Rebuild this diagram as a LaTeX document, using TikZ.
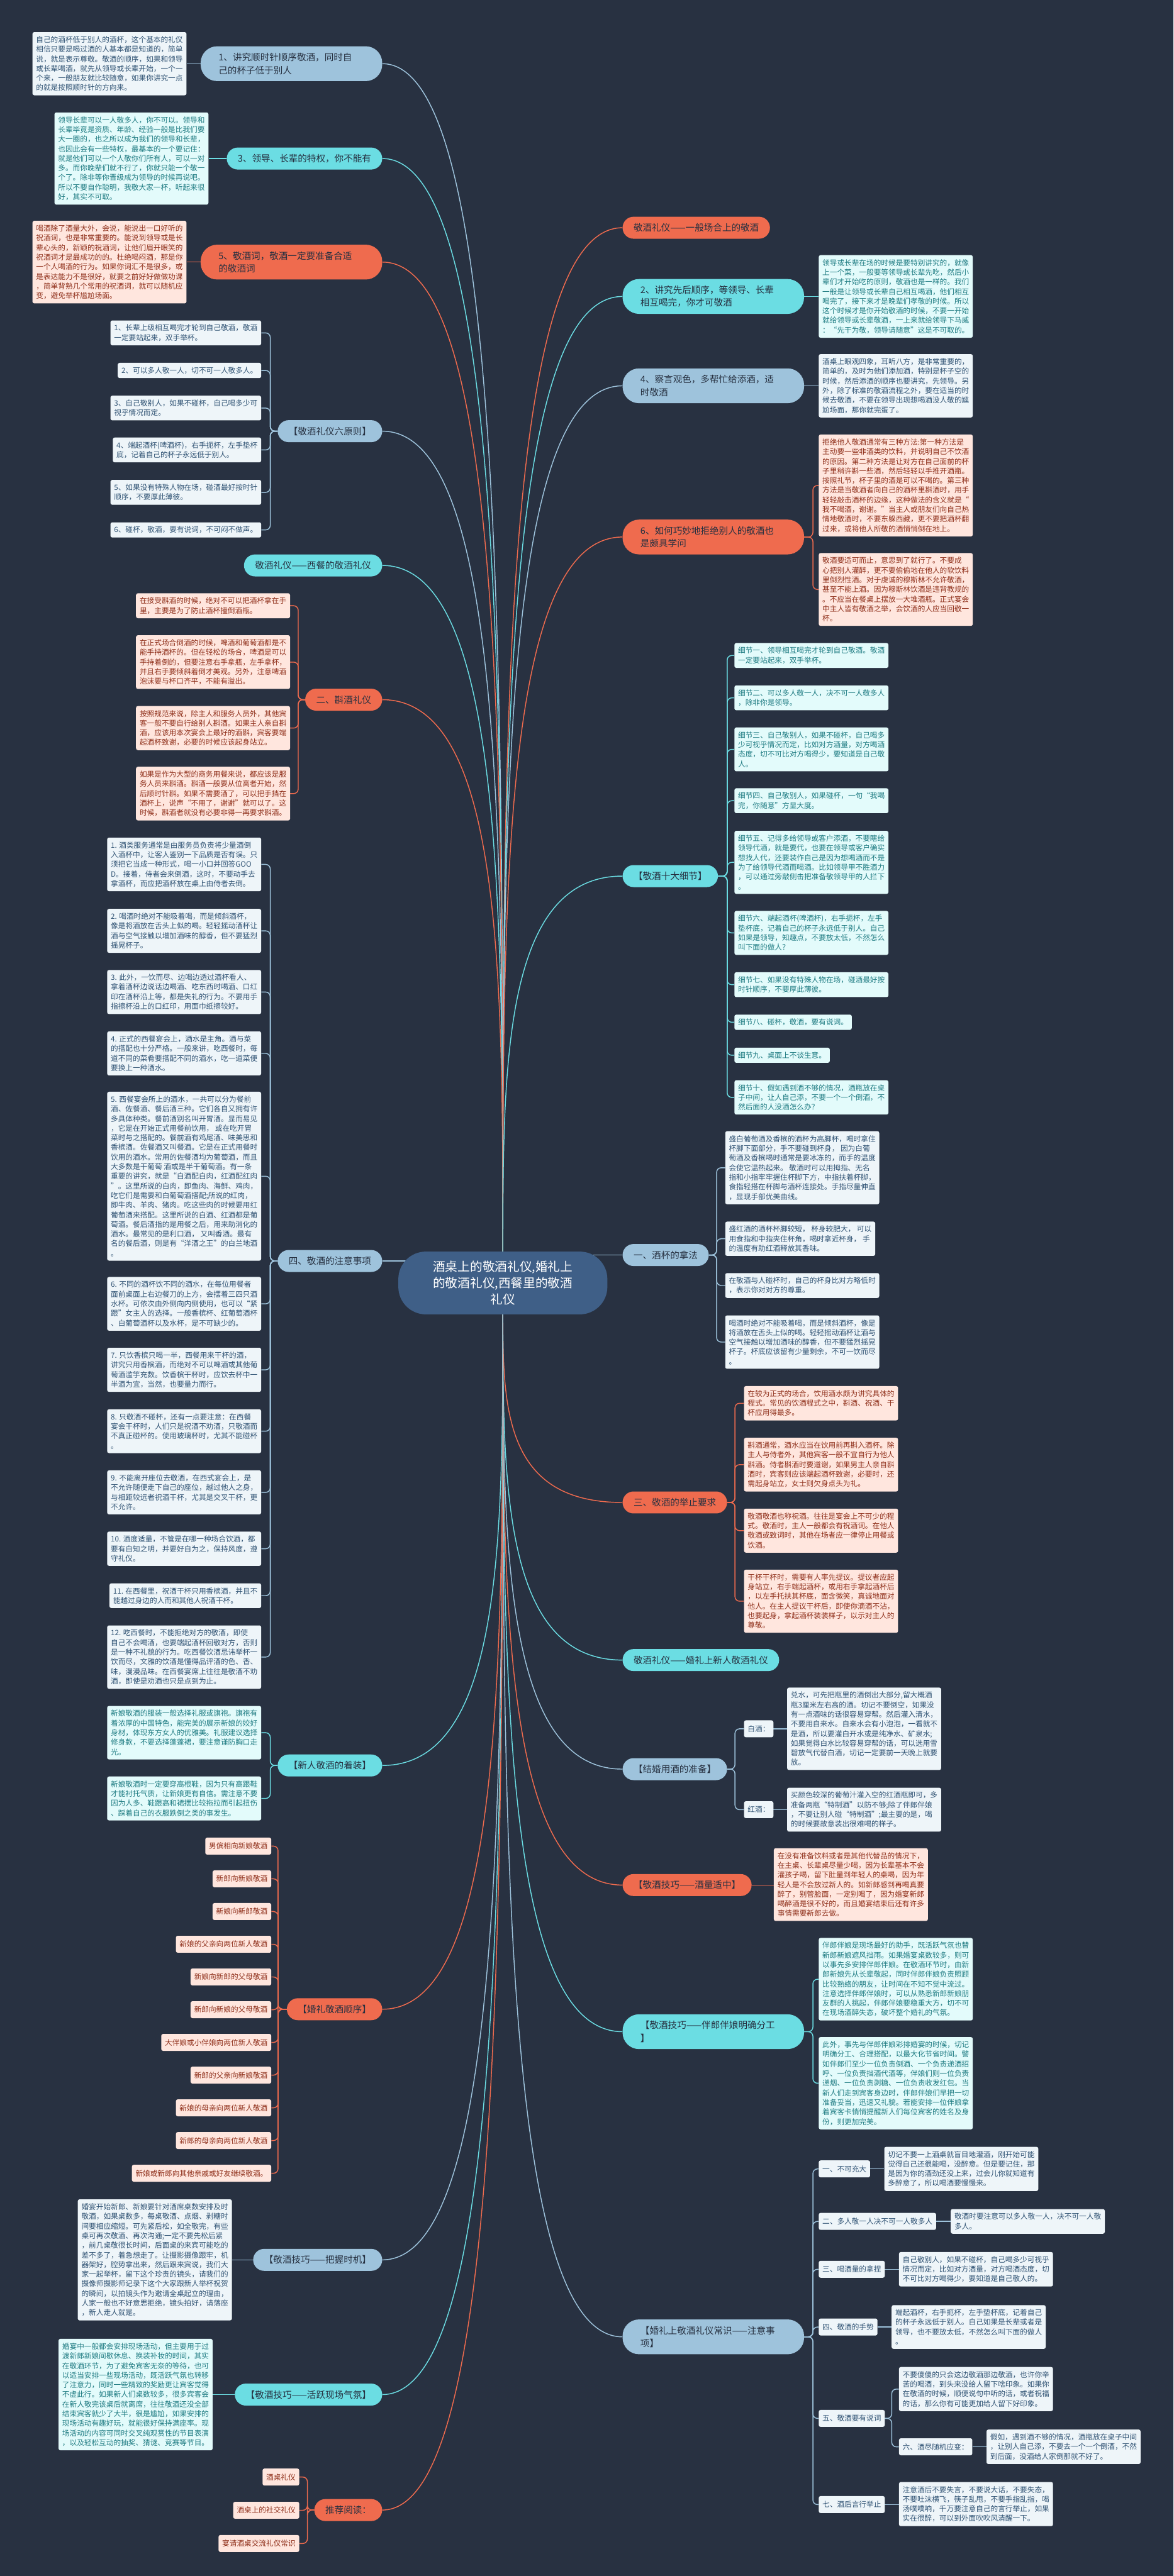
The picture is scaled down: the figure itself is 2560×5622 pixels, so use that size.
\documentclass[tikz,border=0pt]{standalone}
\usepackage{fontspec}
\setmainfont{Noto Sans CJK SC}
\usetikzlibrary{calc}
\definecolor{BG}{HTML}{283141}
\definecolor{Cen}{HTML}{3F5F87}
\definecolor{Ink}{HTML}{263040}
\definecolor{LB}{HTML}{9EC3DC}
\definecolor{CY}{HTML}{6BDDE3}
\definecolor{OR}{HTML}{EF6B4E}
\definecolor{LBp}{HTML}{EEF5F9}
\definecolor{CYp}{HTML}{E3FBFB}
\definecolor{ORp}{HTML}{FFE6DE}
\definecolor{LBt}{HTML}{2F5273}
\definecolor{CYt}{HTML}{1E7B82}
\definecolor{ORt}{HTML}{8F2F1A}
\pgfdeclarelayer{bg}
\pgfdeclarelayer{wires}
\pgfsetlayers{bg,wires,main}

\begin{document}
\begin{tikzpicture}[x=1pt,y=-1pt,
  lv/.style={font=\fontsize{20pt}{28pt}\selectfont,text=Ink,inner xsep=24pt,inner ysep=0pt,minimum height=48pt,rounded corners=24pt},
  lvtwo/.style={lv,text width=318pt,inner xsep=39pt,minimum height=76pt,rounded corners=36pt,align=left},
  det/.style={font=\fontsize{16pt}{21pt}\selectfont,inner xsep=8pt,inner ysep=9pt,rounded corners=4pt,align=left},
  tag/.style={det,inner ysep=0pt,minimum height=37pt},
  dLB/.style={fill=LBp,text=LBt},
  dCY/.style={fill=CYp,text=CYt},
  dOR/.style={fill=ORp,text=ORt},
  lnLB/.style={draw=LB,line width=2pt},
  lnCY/.style={draw=CY,line width=2pt},
  lnOR/.style={draw=OR,line width=2pt},
  arm/.style={rounded corners=10pt}]
  \useasboundingbox (0,0) rectangle (2560,5622);
  \begin{pgfonlayer}{bg}
    \fill[BG] (0,0) rectangle (2560,5622);
  \end{pgfonlayer}

  \node[font=\fontsize{27pt}{36pt}\selectfont,text=white,fill=Cen,align=center,minimum width=456pt,minimum height=137pt,rounded corners=60pt] (cen) at (1097,2800) {酒桌上的敬酒礼仪,婚礼上\\的敬酒礼仪,西餐里的敬酒\\礼仪};
  \coordinate (ctop) at (1097,2745);
  \coordinate (cbot) at (1097,2855);

  \node[lvtwo,fill=LB,anchor=east] (N1) at (834,139) {1、讲究顺时针顺序敬酒，同时自\\己的杯子低于别人};
  \node[lv,fill=CY,anchor=east] (N3) at (834,346) {3、领导、长辈的特权，你不能有};
  \node[lvtwo,fill=OR,anchor=east] (N5) at (834,572) {5、敬酒词，敬酒一定要准备合适\\的敬酒词};
  \node[lv,fill=LB,anchor=east] (N6) at (834,941) {【敬酒礼仪六原则】};
  \node[lv,fill=CY,anchor=east] (NW) at (834,1234) {敬酒礼仪——西餐的敬酒礼仪};
  \node[lv,fill=OR,anchor=east] (N2) at (834,1527) {二、斟酒礼仪};
  \node[lv,fill=LB,anchor=east] (N4) at (834,2752) {四、敬酒的注意事项};
  \node[lv,fill=CY,anchor=east] (NZ) at (834,3853) {【新人敬酒的着装】};
  \node[lv,fill=OR,anchor=east] (NS) at (834,4385) {【婚礼敬酒顺序】};
  \node[lv,fill=LB,anchor=east] (NT) at (834,4932) {【敬酒技巧——把握时机】};
  \node[lv,fill=CY,anchor=east] (NH) at (834,5226) {【敬酒技巧——活跃现场气氛】};
  \node[lv,fill=OR,anchor=east] (NR) at (834,5478) {推荐阅读：};

  \node[lv,fill=OR,anchor=west] (RA) at (1358,497) {敬酒礼仪——一般场合上的敬酒};
  \node[lvtwo,fill=CY,anchor=west] (R2) at (1358,647) {2、讲究先后顺序，等领导、长辈\\相互喝完，你才可敬酒};
  \node[lvtwo,fill=LB,anchor=west] (R4) at (1358,842) {4、察言观色，多帮忙给添酒，适\\时敬酒};
  \node[lvtwo,fill=OR,anchor=west] (R6) at (1358,1172) {6、如何巧妙地拒绝别人的敬酒也\\是颇具学问};
  \node[lv,fill=CY,anchor=west] (RX) at (1358,1912) {【敬酒十大细节】};
  \node[lv,fill=LB,anchor=west] (R1) at (1358,2739) {一、酒杯的拿法};
  \node[lv,fill=OR,anchor=west] (R3) at (1358,3279) {三、敬酒的举止要求};
  \node[lv,fill=CY,anchor=west] (RN) at (1358,3623) {敬酒礼仪——婚礼上新人敬酒礼仪};
  \node[lv,fill=LB,anchor=west] (RJ) at (1358,3861) {【结婚用酒的准备】};
  \node[lv,fill=OR,anchor=west] (RL) at (1358,4114) {【敬酒技巧——酒量适中】};
  \node[lvtwo,fill=CY,anchor=west] (RB) at (1358,4434) {【敬酒技巧——伴郎伴娘明确分工\\】};
  \node[lvtwo,fill=LB,anchor=west] (RC) at (1358,5100) {【婚礼上敬酒礼仪常识——注意事\\项】};

  \node[det,dLB,anchor=east] (D1) at (407,139) {自己的酒杯低于别人的酒杯，这个基本的礼仪\\相信只要是喝过酒的人基本都是知道的，简单\\说，就是表示尊敬。敬酒的顺序，如果和领导\\或长辈喝酒，就先从领导或长辈开始，一个一\\个来，一般朋友就比较随意，如果你讲究一点\\的就是按照顺时针的方向来。};
  \node[det,dCY,anchor=east] (D3) at (455,346) {领导长辈可以一人敬多人，你不可以。领导和\\长辈毕竟是资质、年龄、经验一般是比我们要\\大一圈的，也之所以成为我们的领导和长辈，\\也因此会有一些特权，最基本的一个要记住：\\就是他们可以一个人敬你们所有人，可以一对\\多。而你晚辈们就不行了，你就只能一个敬一\\个了。除非等你晋级成为领导的时候再说吧。\\所以不要自作聪明，我敬大家一杯，听起来很\\好，其实不可取。};
  \node[det,dOR,anchor=east] (D5) at (407,572) {喝酒除了酒量大外，会说，能说出一口好听的\\祝酒词，也是非常重要的。能说到领导或是长\\辈心头的，新颖的祝酒词，让他们眉开眼笑的\\祝酒词才是最成功的的。杜绝喝闷酒，那是你\\一个人喝酒的行为。如果你词汇不是很多，或\\是表达能力不是很好，就要之前好好做做功课\\，简单背熟几个常用的祝酒词，就可以随机应\\变，避免举杯尴尬场面。};

  \node[det,dLB,anchor=east] (C1) at (570,726.5) {1、长辈上级相互喝完才轮到自己敬酒，敬酒\\一定要站起来，双手举杯。};
  \node[det,dLB,anchor=east] (C2) at (570,808.5) {2、可以多人敬一人，切不可一人敬多人。};
  \node[det,dLB,anchor=east] (C3) at (570,890.5) {3、自己敬别人，如果不碰杯，自己喝多少可\\视乎情况而定。};
  \node[det,dLB,anchor=east] (C4) at (570,982) {4、端起酒杯(啤酒杯)，右手扼杯，左手垫杯\\底，记着自己的杯子永远低于别人。};
  \node[det,dLB,anchor=east] (C5) at (570,1074.5) {5、如果没有特殊人物在场，碰酒最好按时针\\顺序，不要厚此薄彼。};
  \node[det,dLB,anchor=east] (C6) at (570,1156.5) {6、碰杯，敬酒，要有说词，不可闷不做声。};

  \node[det,dOR,anchor=east] (E1) at (633,1322) {在接受斟酒的时候，绝对不可以把酒杯拿在手\\里，主要是为了防止酒杯撞倒酒瓶。};
  \node[det,dOR,anchor=east] (E2) at (633,1445) {在正式场合倒酒的时候，啤酒和葡萄酒都是不\\能手持酒杯的。但在轻松的场合，啤酒是可以\\手持着倒的，但要注意右手拿瓶，左手拿杯，\\并且右手要倾斜着倒才美观。另外，注意啤酒\\泡沫要与杯口齐平，不能有溢出。};
  \node[det,dOR,anchor=east] (E3) at (633,1589) {按照规范来说，除主人和服务人员外，其他宾\\客一般不要自行给别人斟酒。如果主人亲自斟\\酒，应该用本次宴会上最好的酒斟，宾客要端\\起酒杯致谢，必要的时候应该起身站立。};
  \node[det,dOR,anchor=east] (E4) at (633,1732) {如果是作为大型的商务用餐来说，都应该是服\\务人员来斟酒。斟酒一般要从位高者开始，然\\后顺时针斟。如果不需要酒了，可以把手挡在\\酒杯上，说声“不用了，谢谢”就可以了。这\\时候，斟酒者就没有必要非得一再要求斟酒。};

  \node[det,dLB,anchor=east] (W1) at (570,1886.5) {1. 酒类服务通常是由服务员负责将少量酒倒\\入酒杯中，让客人鉴别一下品质是否有误。只\\须把它当成一种形式，喝一小口并回答GOO\\D。接着，侍者会来倒酒，这时，不要动手去\\拿酒杯，而应把酒杯放在桌上由侍者去倒。};
  \node[det,dLB,anchor=east] (W2) at (570,2031.5) {2. 喝酒时绝对不能吸着喝，而是倾斜酒杯，\\像是将酒放在舌头上似的喝。轻轻摇动酒杯让\\酒与空气接触以增加酒味的醇香，但不要猛烈\\摇晃杯子。};
  \node[det,dLB,anchor=east] (W3) at (570,2165) {3. 此外，一饮而尽、边喝边透过酒杯看人、\\拿着酒杯边说话边喝酒、吃东西时喝酒、口红\\印在酒杯沿上等，都是失礼的行为。不要用手\\指擦杯沿上的口红印，用面巾纸擦较好。};
  \node[det,dLB,anchor=east] (W4) at (570,2299) {4. 正式的西餐宴会上，酒水是主角。酒与菜\\的搭配也十分严格。一般来讲，吃西餐时，每\\道不同的菜肴要搭配不同的酒水，吃一道菜便\\要换上一种酒水。};
  \node[det,dLB,anchor=east] (W5) at (570,2567) {5. 西餐宴会所上的酒水，一共可以分为餐前\\酒、佐餐酒、餐后酒三种。它们各自又拥有许\\多具体种类。餐前酒别名叫开胃酒。显而易见\\，它是在开始正式用餐前饮用， 或在吃开胃\\菜时与之搭配的。餐前酒有鸡尾酒、味美思和\\香槟酒。佐餐酒又叫餐酒。它是在正式用餐时\\饮用的酒水。常用的佐餐酒均为葡萄酒，而且\\大多数是干葡萄 酒或是半干葡萄酒。有一条\\重要的讲究，就是“白酒配白肉，红酒配红肉\\”。这里所说的白肉，即鱼肉、海鲜、鸡肉，\\吃它们是需要和白葡萄酒搭配;所说的红肉，\\即牛肉、羊肉、猪肉。吃这些肉的时候要用红\\葡萄酒来搭配。这里所说的白酒、红酒都是葡\\萄酒。餐后酒指的是用餐之后，用来助消化的\\酒水。最常见的是利口酒， 又叫香酒。最有\\名的餐后酒，则是有“洋酒之王”的白兰地酒\\。};
  \node[det,dLB,anchor=east] (W6) at (570,2845.5) {6. 不同的酒杯饮不同的酒水，在每位用餐者\\面前桌面上右边餐刀的上方，会摆着三四只酒\\水杯。可依次由外侧向内侧使用，也可以“紧\\跟”女主人的选择。一般香槟杯、红葡萄酒杯\\、白葡萄酒杯以及水杯，是不可缺少的。};
  \node[det,dLB,anchor=east] (W7) at (570,2989.5) {7. 只饮香槟只喝一半，西餐用来干杯的酒，\\讲究只用香槟酒，而绝对不可以啤酒或其他葡\\萄酒滥竽充数。饮香槟干杯时，应饮去杯中一\\半酒为宜，当然，也要量力而行。};
  \node[det,dLB,anchor=east] (W8) at (570,3123.5) {8. 只敬酒不碰杯，还有一点要注意：在西餐\\宴会干杯时，人们只是祝酒不劝酒，只敬酒而\\不真正碰杯的。使用玻璃杯时，尤其不能碰杯\\。};
  \node[det,dLB,anchor=east] (W9) at (570,3257) {9. 不能离开座位去敬酒，在西式宴会上，是\\不允许随便走下自己的座位，越过他人之身，\\与相距较远者祝酒干杯，尤其是交叉干杯，更\\不允许。};
  \node[det,dLB,anchor=east] (W10) at (570,3380) {10. 酒度适量，不管是在哪一种场合饮酒，都\\要有自知之明，并要好自为之，保持风度，遵\\守礼仪。};
  \node[det,dLB,anchor=east] (W11) at (570,3482.5) {11. 在西餐里，祝酒干杯只用香槟酒，并且不\\能越过身边的人而和其他人祝酒干杯。};
  \node[det,dLB,anchor=east] (W12) at (570,3616.5) {12. 吃西餐时，不能拒绝对方的敬酒，即使\\自己不会喝酒，也要端起酒杯回敬对方，否则\\是一种不礼貌的行为。吃西餐饮酒忌讳举杯一\\饮而尽，文雅的饮酒是懂得品评酒的色、香、\\味，漫漫品味。在西餐宴席上往往是敬酒不劝\\酒，即使是劝酒也只是点到为止。};

  \node[det,dCY,anchor=east] (F1) at (570,3781.5) {新娘敬酒的服装一般选择礼服或旗袍。旗袍有\\着浓厚的中国特色，能完美的展示新娘的姣好\\身材，体现东方女人的优雅美。礼服建议选择\\修身款，不要选择蓬蓬裙，要注意谨防胸口走\\光。};
  \node[det,dCY,anchor=east] (F2) at (570,3925) {新娘敬酒时一定要穿高根鞋，因为只有高跟鞋\\才能衬托气质，让新娘更有自信。需注意不要\\因为人多、鞋跟高和裙摆比较拖拉而引起扭伤\\、踩着自己的衣服跌倒之类的事发生。};

  \foreach \t [count=\i] in {男傧相向新娘敬酒,新郎向新娘敬酒,新娘向新郎敬酒,新娘的父亲向两位新人敬酒,新娘向新郎的父母敬酒,新郎向新娘的父母敬酒,大伴娘或小伴娘向两位新人敬酒,新郎的父亲向新娘敬酒,新娘的母亲向两位新人敬酒,新郎的母亲向两位新人敬酒,新娘或新郎向其他亲戚或好友继续敬酒。}
    \node[tag,dOR,anchor=east] (S\i) at (592,{4029+71.4*(\i-1)}) {\t};

  \node[det,dLB,anchor=east] (T1) at (506,4932) {婚宴开始新郎、新娘要针对酒席桌数安排及时\\敬酒，如果桌数多，每桌敬酒、点烟、剥糖时\\间要相应缩短。可先紧后松，如全敬完，有些\\桌可再次敬酒、再次沟通;一定不要先松后紧\\，前几桌敬很长时间，后面桌的来宾可能吃的\\差不多了，着急想走了。让摄影摄像跟牢，机\\器架好，腔势拿出来，然后跟来宾说，我们大\\家一起举杯，留下这个珍贵的镜头，请我们的\\摄像师摄影师记录下这个大家跟新人举杯祝贺\\的瞬间，以拍镜头作为邀请全桌起立的理由，\\人家一般也不好意思拒绝，镜头拍好，请落座\\，新人走人就是。};
  \node[det,dCY,anchor=east] (H1) at (464,5226) {婚宴中一般都会安排现场活动，但主要用于过\\渡新郎新娘间歇休息、换装补妆的时间，其实\\在敬酒环节，为了避免宾客无奈的等待，也可\\以适当安排一些现场活动，既活跃气氛也转移\\了注意力，同时一些精致的奖励更让宾客觉得\\不虚此行。如果新人们桌数较多，很多宾客会\\在新人敬完该桌后就离席，往往敬酒还没全部\\结束宾客就少了大半，很是尴尬，如果安排的\\现场活动有趣好玩，就能很好保持满座率。现\\场活动的内容可同时交叉纯观赏性的节目表演\\，以及轻松互动的抽奖、猜谜、竞赛等节目。};

  \node[tag,dOR,anchor=east] (P1) at (653,5406) {酒桌礼仪};
  \node[tag,dOR,anchor=east] (P2) at (653,5478.5) {酒桌上的社交礼仪};
  \node[tag,dOR,anchor=east] (P3) at (653,5551) {宴请酒桌交流礼仪常识};

  \node[det,dCY,anchor=west] (Q2) at (1786,647) {领导或长辈在场的时候是要特别讲究的，就像\\上一个菜，一般要等领导或长辈先吃，然后小\\辈们才开始吃的原则，敬酒也是一样的。我们\\一般是让领导或长辈自己相互喝酒，他们相互\\喝完了，接下来才是晚辈们孝敬的时候。所以\\这个时候才是你开始敬酒的时候，不要一开始\\就给领导或长辈敬酒，一上来就给领导下马威\\：“先干为敬，领导请随意”这是不可取的。};
  \node[det,dLB,anchor=west] (Q4) at (1786,842) {酒桌上眼观四象，耳听八方，是非常重要的，\\简单的，及时为他们添加酒，特别是杯子空的\\时候，然后添酒的顺序也要讲究，先领导。另\\外，除了标准的敬酒流程之外，要在适当的时\\候去敬酒，不要在领导出现想喝酒没人敬的尴\\尬场面，那你就完蛋了。};

  \node[det,dOR,anchor=west] (G1) at (1786,1059.5) {拒绝他人敬酒通常有三种方法:第一种方法是\\主动要一些非酒类的饮料，并说明自己不饮酒\\的原因。第二种方法是让对方在自己面前的杯\\子里稍许斟一些酒，然后轻轻以手推开酒瓶。\\按照礼节，杯子里的酒是可以不喝的。第三种\\方法是当敬酒者向自己的酒杯里斟酒时，用手\\轻轻敲击酒杯的边缘，这种做法的含义就是“\\我不喝酒，谢谢。”当主人或朋友们向自己热\\情地敬酒时，不要东躲西藏，更不要把酒杯翻\\过来，或将他人所敬的酒悄悄倒在地上。};
  \node[det,dOR,anchor=west] (G2) at (1786,1286.5) {敬酒要适可而止，意思到了就行了。不要成\\心把别人灌醉，更不要偷偷地在他人的软饮料\\里倒烈性酒。对于虔诚的穆斯林不允许敬酒，\\甚至不能上酒。因为穆斯林饮酒是违背教规的\\。不应当在餐桌上摆放一大堆酒瓶。正式宴会\\中主人皆有敬酒之举，会饮酒的人应当回敬一\\杯。};

  \node[det,dCY,anchor=west] (X1) at (1602,1430.5) {细节一、领导相互喝完才轮到自己敬酒。敬酒\\一定要站起来，双手举杯。};
  \node[det,dCY,anchor=west] (X2) at (1602,1523) {细节二、可以多人敬一人，决不可一人敬多人\\，除非你是领导。};
  \node[det,dCY,anchor=west] (X3) at (1602,1635.5) {细节三、自己敬别人，如果不碰杯，自己喝多\\少可视乎情况而定，比如对方酒量，对方喝酒\\态度，切不可比对方喝得少，要知道是自己敬\\人。};
  \node[det,dCY,anchor=west] (X4) at (1602,1747.5) {细节四、自己敬别人，如果碰杯，一句“我喝\\完，你随意”方显大度。};
  \node[det,dCY,anchor=west] (X5) at (1602,1882) {细节五、记得多给领导或客户添酒，不要瞎给\\领导代酒，就是要代，也要在领导或客户确实\\想找人代，还要装作自己是因为想喝酒而不是\\为了给领导代酒而喝酒。比如领导甲不胜酒力\\，可以通过旁敲侧击把准备敬领导甲的人拦下\\。};
  \node[det,dCY,anchor=west] (X6) at (1602,2036) {细节六、端起酒杯(啤酒杯)，右手扼杯，左手\\垫杯底，记着自己的杯子永远低于别人。自己\\如果是领导，知趣点，不要放太低，不然怎么\\叫下面的做人？};
  \node[det,dCY,anchor=west] (X7) at (1602,2149) {细节七、如果没有特殊人物在场，碰酒最好按\\时针顺序，不要厚此薄彼。};
  \node[det,dCY,anchor=west] (X8) at (1602,2231) {细节八、碰杯，敬酒，要有说词。};
  \node[det,dCY,anchor=west] (X9) at (1602,2303) {细节九、桌面上不谈生意。};
  \node[det,dCY,anchor=west] (X10) at (1602,2395) {细节十、假如遇到酒不够的情况，酒瓶放在桌\\子中间，让人自己添，不要一个一个倒酒，不\\然后面的人没酒怎么办？};

  \node[det,dLB,anchor=west] (A1) at (1582,2548.5) {盛白葡萄酒及香槟的酒杯为高脚杯，喝时拿住\\杯脚下面部分，手不要碰到杯身， 因为白葡\\萄酒及香槟喝时通常是要冰冻的，而手的温度\\会使它温热起来。 敬酒时可以用拇指、无名\\指和小指牢牢握住杯脚下方，中指扶着杯脚，\\食指轻搭在杯脚与酒杯连接处。手指尽量伸直\\，显现手部优美曲线。};
  \node[det,dLB,anchor=west] (A2) at (1582,2703.5) {盛红酒的酒杯杯脚较短， 杯身较肥大， 可以\\用食指和中指夹住杯角，喝时拿近杯身， 手\\的温度有助红酒释放其香味。};
  \node[det,dLB,anchor=west] (A3) at (1582,2805.5) {在敬酒与人碰杯时，自己的杯身比对方略低时\\，表示你对对方的尊重。};
  \node[det,dLB,anchor=west] (A4) at (1582,2929) {喝酒时绝对不能吸着喝，而是倾斜酒杯，像是\\将酒放在舌头上似的喝。轻轻摇动酒杯让酒与\\空气接触以增加酒味的醇香，但不要猛烈摇晃\\杯子。杯底应该留有少量剩余，不可一饮而尽\\。};

  \node[det,dOR,anchor=west] (B1) at (1623,3062.5) {在较为正式的场合，饮用酒水颇为讲究具体的\\程式。常见的饮酒程式之中，斟酒、祝酒、干\\杯应用得最多。};
  \node[det,dOR,anchor=west] (B2) at (1623,3196.5) {斟酒通常，酒水应当在饮用前再斟入酒杯。除\\主人与侍者外，其他宾客一般不宜自行为他人\\斟酒。侍者斟酒时要道谢，如果男主人亲自斟\\酒时，宾客则应该端起酒杯致谢，必要时，还\\需起身站立，女士则欠身点头为礼。};
  \node[det,dOR,anchor=west] (B3) at (1623,3340.5) {敬酒敬酒也称祝酒。往往是宴会上不可少的程\\式。敬酒时，主人一般都会有祝酒词。在他人\\敬酒或致词时，其他在场者应一律停止用餐或\\饮酒。};
  \node[det,dOR,anchor=west] (B4) at (1623,3494.5) {干杯干杯时，需要有人率先提议。提议者应起\\身站立，右手端起酒杯，或用右手拿起酒杯后\\，以左手托扶其杯底，面含微笑，真诚地面对\\他人。在主人提议干杯后，即使你滴酒不沾，\\也要起身，拿起酒杯装装样子，以示对主人的\\尊敬。};

  \node[tag,dLB,anchor=west] (bai) at (1623,3773) {白酒：};
  \node[det,dLB,anchor=west] (baiT) at (1717,3773) {兑水，可先把瓶里的酒倒出大部分,留大概酒\\瓶3厘米左右高的酒。切记不要倒空，如果没\\有一点酒味的话很容易穿帮。然后灌入清水，\\不要用自来水。自来水会有小泡泡，一看就不\\是酒，所以要灌白开水或是纯净水、矿泉水;\\如果觉得白水比较容易穿帮的话，可以选用雪\\碧放气代替白酒，切记一定要前一天晚上就要\\放。};
  \node[tag,dLB,anchor=west] (hong) at (1623,3949.5) {红酒：};
  \node[det,dLB,anchor=west] (hongT) at (1717,3949.5) {买颜色较深的葡萄汁灌入空的红酒瓶即可，多\\准备两瓶“特制酒”以防不够;除了伴郎伴娘\\，不要让别人碰“特制酒”;最主要的是，喝\\的时候要故意装出很难喝的样子。};

  \node[det,dOR,anchor=west] (LT) at (1688,4113) {在没有准备饮料或者是其他代替品的情况下，\\在主桌、长辈桌尽量少喝，因为长辈基本不会\\灌孩子喝，留下肚量到年轻人的桌喝，因为年\\轻人是不会放过新人的。如新郎感到再喝真要\\醉了，别管脸面，一定别喝了，因为婚宴新郎\\喝醉酒是很不好的，而且婚宴结束后还有许多\\事情需要新郎去做。};

  \node[det,dCY,anchor=west] (M1) at (1786,4319.5) {伴郎伴娘是现场最好的助手，既活跃气氛也替\\新郎新娘遮风挡雨。如果婚宴桌数较多，则可\\以事先多安排伴郎伴娘。在敬酒环节时，由新\\郎新娘先从长辈敬起，同时伴郎伴娘负责照顾\\比较熟络的朋友，让时间在不知不觉中流过。\\注意选择伴郎伴娘时，可以从熟悉新郎新娘朋\\友群的人挑起，伴郎伴娘要稳重大方，切不可\\在现场酒醉失态，破坏整个婚礼的气氛。};
  \node[det,dCY,anchor=west] (M2) at (1786,4546.5) {此外，事先与伴郎伴娘彩排婚宴的时候，切记\\明确分工、合理搭配，以最大化节省时间。譬\\如伴郎们至少一位负责倒酒、一个负责递酒招\\呼、一位负责挡酒代酒等，伴娘们则一位负责\\递烟、一位负责剥糖、一位负责收发红包。当\\新人们走到宾客身边时，伴郎伴娘们早把一切\\准备妥当，迅速又礼貌。若能安排一位伴娘拿\\着宾客卡悄悄提醒新人们每位宾客的姓名及身\\份，则更加完美。};

  \node[tag,dLB,anchor=west] (U1) at (1786,4733.5) {一、不可充大};
  \node[det,dLB,anchor=west] (V1) at (1929,4733.5) {切记不要一上酒桌就盲目地灌酒，刚开始可能\\觉得自己还很能喝，没醉意。但是要记住，那\\是因为你的酒劲还没上来，过会儿你就知道有\\多醉意了，所以喝酒要慢慢来。};
  \node[tag,dLB,anchor=west] (U2) at (1786,4848) {二、多人敬一人决不可一人敬多人};
  \node[det,dLB,anchor=west] (V2) at (2074,4848) {敬酒时要注意可以多人敬一人，决不可一人敬\\多人。};
  \node[tag,dLB,anchor=west] (U3) at (1786,4952.5) {三、喝酒量的拿捏};
  \node[det,dLB,anchor=west] (V3) at (1961,4952.5) {自己敬别人，如果不碰杯，自己喝多少可视乎\\情况而定，比如对方酒量，对方喝酒态度，切\\不可比对方喝得少，要知道是自己敬人的。};
  \node[tag,dLB,anchor=west] (U4) at (1786,5078.5) {四、敬酒的手势};
  \node[det,dLB,anchor=west] (V4) at (1945,5078.5) {端起酒杯，右手扼杯，左手垫杯底，记着自己\\的杯子永远低于别人。自己如果是长辈或者是\\领导，也不要放太低，不然怎么叫下面的做人\\。};
  \node[tag,dLB,anchor=west] (U5) at (1786,5278) {五、敬酒要有说词};
  \node[det,dLB,anchor=west] (V5) at (1961,5214) {不要傻傻的只会这边敬酒那边敬酒，也许你辛\\苦的喝酒，到头来没给人留下啥印象。如果你\\在敬酒的时候，顺便说句中听的话，或者祝福\\的话，那么你有可能更加给人留下好印象。};
  \node[tag,dLB,anchor=west] (U6) at (1961,5340) {六、酒尽随机应变：};
  \node[det,dLB,anchor=west] (V6) at (2152,5340) {假如，遇到酒不够的情况，酒瓶放在桌子中间\\，让别人自己添，不要去一个一个倒酒，不然\\到后面，没酒给人家倒那就不好了。};
  \node[tag,dLB,anchor=west] (U7) at (1786,5466) {七、酒后言行举止};
  \node[det,dLB,anchor=west] (V7) at (1961,5465) {注意酒后不要失言，不要说大话，不要失态，\\不要吐沫横飞，筷子乱甩，不要手指乱指，喝\\汤噗噗响，千万要注意自己的言行举止，如果\\实在很醉，可以到外面吹吹风清醒一下。};

  \begin{pgfonlayer}{wires}
    \foreach \b/\s in {N1/lnLB,N3/lnCY,N5/lnOR,N6/lnLB,NW/lnCY,N2/lnOR}
      \draw[\s] (\b.east) .. controls (\b.east -| ctop) and ($(ctop)!0.5!(\b.east -| ctop)$) .. (ctop);
    \foreach \b/\s in {RA/lnOR,R2/lnCY,R4/lnLB,R6/lnOR,RX/lnCY}
      \draw[\s] (\b.west) .. controls (\b.west -| ctop) and ($(ctop)!0.5!(\b.west -| ctop)$) .. (ctop);
    \foreach \b/\s in {NZ/lnCY,NS/lnOR,NT/lnLB,NH/lnCY,NR/lnOR}
      \draw[\s] (\b.east) .. controls (\b.east -| cbot) and ($(cbot)!0.5!(\b.east -| cbot)$) .. (cbot);
    \foreach \b/\s in {R3/lnOR,RN/lnCY,RJ/lnLB,RL/lnOR,RB/lnCY,RC/lnLB}
      \draw[\s] (\b.west) .. controls (\b.west -| cbot) and ($(cbot)!0.5!(\b.west -| cbot)$) .. (cbot);
    \draw[lnLB] (N4.east) -- (N4.east -| cen.center);
    \draw[lnLB] (R1.west) -- (R1.west -| cen.center);

    \draw[lnLB] (N1.west) -- (N1.west -| D1.east);
    \draw[lnCY] (N3.west) -- (N3.west -| D3.east);
    \draw[lnOR] (N5.west) -- (N5.west -| D5.east);
    \foreach \i in {1,...,6} \draw[lnLB,arm] (N6.west) -- ++(-16,0) |- (C\i.east);
    \foreach \i in {1,...,4} \draw[lnOR,arm] (N2.west) -- ++(-15,0) |- (E\i.east);
    \foreach \i in {1,...,12} \draw[lnLB,arm] (N4.west) -- ++(-16,0) |- (W\i.east);
    \foreach \i in {1,2} \draw[lnCY,arm] (NZ.west) -- ++(-16,0) |- (F\i.east);
    \foreach \i in {1,...,11} \draw[lnOR,arm] (NS.west) -- ++(-19,0) |- (S\i.east);
    \draw[lnLB] (NT.west) -- (NT.west -| T1.east);
    \draw[lnCY] (NH.west) -- (NH.west -| H1.east);
    \foreach \i in {1,2,3} \draw[lnOR,arm] (NR.west) -- ++(-15,0) |- (P\i.east);

    \draw[lnCY] (R2.east) -- (R2.east -| Q2.west);
    \draw[lnLB] (R4.east) -- (R4.east -| Q4.west);
    \foreach \i in {1,2} \draw[lnOR,arm] (R6.east) -- ++(19,0) |- (G\i.west);
    \foreach \i in {1,...,10} \draw[lnCY,arm] (RX.east) -- ++(20,0) |- (X\i.west);
    \foreach \i in {1,...,4} \draw[lnLB,arm] (R1.east) -- ++(17,0) |- (A\i.west);
    \foreach \i in {1,...,4} \draw[lnOR,arm] (R3.east) -- ++(17,0) |- (B\i.west);
    \draw[lnLB,arm] (RJ.east) -- ++(17,0) |- (bai.west);
    \draw[lnLB,arm] (RJ.east) -- ++(17,0) |- (hong.west);
    \draw[lnLB] (bai.east) -- (bai.east -| baiT.west);
    \draw[lnLB] (hong.east) -- (hong.east -| hongT.west);
    \draw[lnOR] (RL.east) -- (RL.east -| LT.west);
    \foreach \i in {1,2} \draw[lnCY,arm] (RB.east) -- ++(19,0) |- (M\i.west);
    \foreach \i in {1,2,3,4,5,7} \draw[lnLB,arm] (RC.east) -- ++(19,0) |- (U\i.west);
    \foreach \i in {1,2,3,4,6,7} \draw[lnLB] (U\i.east) -- (U\i.east -| V\i.west);
    \draw[lnLB,arm] (U5.east) -- ++(15,0) |- (V5.west);
    \draw[lnLB,arm] (U5.east) -- ++(15,0) |- (U6.west);
  \end{pgfonlayer}
\end{tikzpicture}
\end{document}
